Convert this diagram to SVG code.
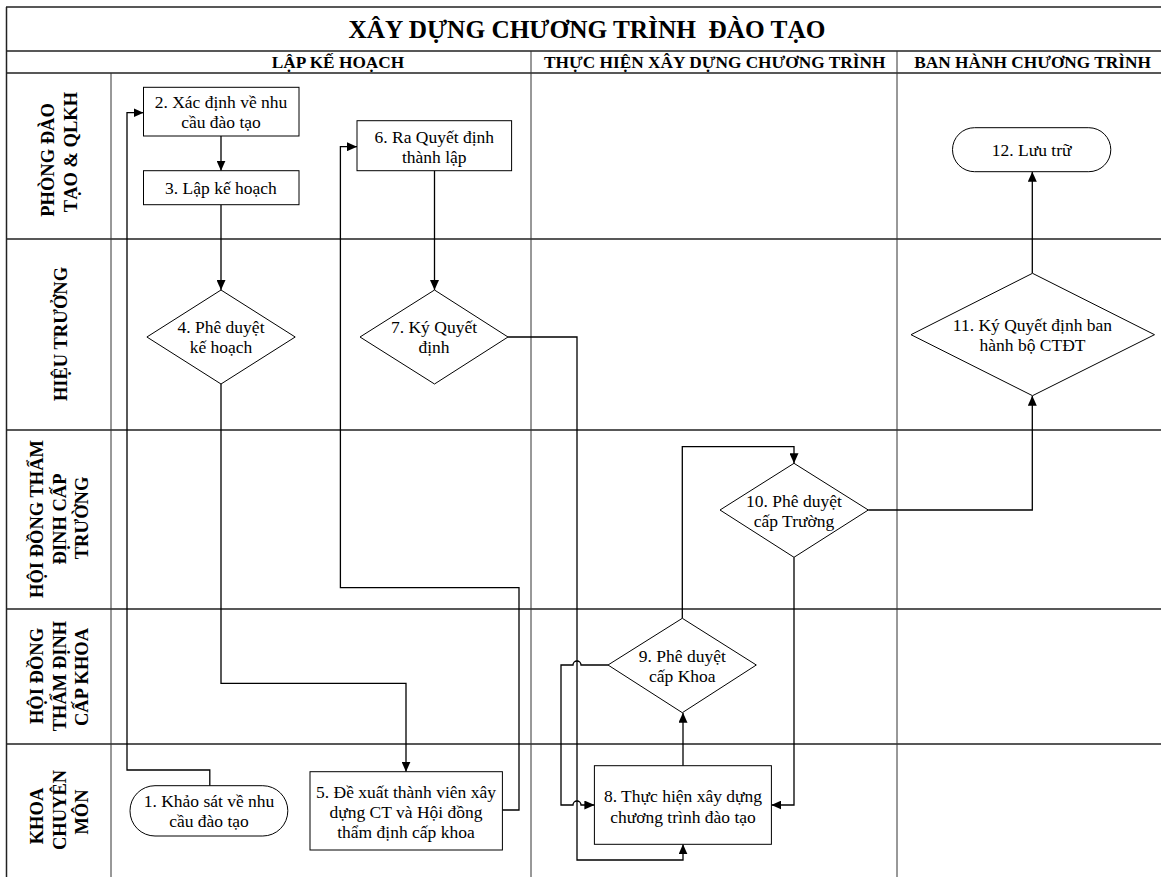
<svg xmlns="http://www.w3.org/2000/svg" width="1161" height="877" viewBox="0 0 1161 877">
<style>
.bg{fill:#fff}
.grid{stroke:#222;stroke-width:1.5;fill:none}
.vgrid{stroke:#333;stroke-width:1;fill:none}
.node{fill:#fff;stroke:#000;stroke-width:1}
.t{font-family:"Liberation Serif","Times New Roman",serif;font-size:17.5px;fill:#000;text-anchor:middle}
.title{font-family:"Liberation Serif","Times New Roman",serif;font-size:25.3px;font-weight:bold;fill:#000;text-anchor:middle}
.ph{font-family:"Liberation Serif","Times New Roman",serif;font-size:17.3px;font-weight:bold;fill:#000;text-anchor:middle}
.lane{font-family:"Liberation Serif","Times New Roman",serif;font-size:18.5px;font-weight:bold;fill:#000;text-anchor:middle}
.c{fill:none;stroke:#000;stroke-width:1.3}
</style>
<defs>
<marker id="arr" markerWidth="10" markerHeight="9" refX="10" refY="4.5" orient="auto" markerUnits="userSpaceOnUse">
<path d="M0,0 L10,4.5 L0,9 z" fill="#000"/>
</marker>
</defs>
<rect class="bg" x="0" y="0" width="1161" height="877"/>
<g id="frame">
<path class="grid" d="M6,7 H1161 M6.5,7 V877 M6,51 H1161 M6,73 H1161 M6,239 H1161 M6,430 H1161 M6,609 H1161 M6,744 H1161"/>
<path class="vgrid" d="M111,73 V877 M531,51 V877 M897,51 V877"/>
<text class="title" x="587" y="37.5">XÂY DỰNG CHƯƠNG TRÌNH&#160; ĐÀO TẠO</text>
<text class="ph" x="338" y="68">LẬP KẾ HOẠCH</text>
<text class="ph" x="714.7" y="68">THỰC HIỆN XÂY DỰNG CHƯƠNG TRÌNH</text>
<text class="ph" x="1032.6" y="68">BAN HÀNH CHƯƠNG TRÌNH</text>
</g>
<g id="lanes">
<text class="lane" transform="translate(54,160) rotate(-90)">PHÒNG ĐÀO</text>
<text class="lane" transform="translate(77,152) rotate(-90)">TẠO &amp; QLKH</text>
<text class="lane" transform="translate(67,334) rotate(-90)">HIỆU TRƯỞNG</text>
<text class="lane" transform="translate(43,519) rotate(-90)">HỘI ĐỒNG THẨM</text>
<text class="lane" transform="translate(66,519) rotate(-90)">ĐỊNH CẤP</text>
<text class="lane" transform="translate(88,518) rotate(-90)">TRƯỜNG</text>
<text class="lane" transform="translate(43,676) rotate(-90)">HỘI ĐỒNG</text>
<text class="lane" transform="translate(66,676) rotate(-90)">THẨM ĐỊNH</text>
<text class="lane" transform="translate(88,677) rotate(-90)">CẤP KHOA</text>
<text class="lane" transform="translate(43,816) rotate(-90)">KHOA</text>
<text class="lane" transform="translate(66,810) rotate(-90)">CHUYÊN</text>
<text class="lane" transform="translate(88,812) rotate(-90)">MÔN</text>
</g>
<g id="connectors">
<path class="c" marker-end="url(#arr)" d="M209.8,785.7 V770 H127 V112.7 H143.5"/>
<path class="c" marker-end="url(#arr)" d="M221,136 V170.7"/>
<path class="c" marker-end="url(#arr)" d="M221,204.7 V290"/>
<path class="c" marker-end="url(#arr)" d="M221,384 V683.3 H406 V771.7"/>
<path class="c" marker-end="url(#arr)" d="M502.4,810 H519 V587.7 H340.4 V146.7 H357"/>
<path class="c" marker-end="url(#arr)" d="M434.5,170.7 V290"/>
<path class="c" marker-end="url(#arr)" d="M508,337 H577 V860 H683 V844.3"/>
<path class="c" marker-end="url(#arr)" d="M683,765.7 V712.7"/>
<path class="c" marker-end="url(#arr)" d="M682.3,618.3 V446.7 H794 V463.3"/>
<path class="c" marker-end="url(#arr)" d="M608,665 H581 A4,4 0 0 0 573,665 H561 V805 H573 A4,4 0 0 1 581,805 H594.4"/>
<path class="c" marker-end="url(#arr)" d="M794,557.3 V805 H771.4"/>
<path class="c" marker-end="url(#arr)" d="M868.3,510 H1032.3 V395.7"/>
<path class="c" marker-end="url(#arr)" d="M1032.3,273.3 V171.7"/>
</g>
<g id="n1">
<rect class="node" x="130" y="785.7" width="157.8" height="50.3" rx="25" ry="25"/>
<text class="t" x="209" y="806.5">1. Khảo sát về nhu</text>
<text class="t" x="209" y="827">cầu đào tạo</text>
</g>
<g id="n2">
<rect class="node" x="143.5" y="87.3" width="155.5" height="48.7"/>
<text class="t" x="221" y="108">2. Xác định về nhu</text>
<text class="t" x="221" y="128">cầu đào tạo</text>
</g>
<g id="n3">
<rect class="node" x="143.5" y="170.7" width="155.5" height="34"/>
<text class="t" x="221" y="193.5">3. Lập kế hoạch</text>
</g>
<g id="n4">
<polygon class="node" points="221,290 295.2,337 221,384 146.9,337"/>
<text class="t" x="221" y="332.5">4. Phê duyệt</text>
<text class="t" x="221" y="352.5">kế hoạch</text>
</g>
<g id="n5">
<rect class="node" x="310" y="771.7" width="192.4" height="78.3"/>
<text class="t" x="406" y="798">5. Đề xuất thành viên xây</text>
<text class="t" x="406" y="818">dựng CT và Hội đồng</text>
<text class="t" x="406" y="838">thẩm định cấp khoa</text>
</g>
<g id="n6">
<rect class="node" x="357" y="120.7" width="154.6" height="50"/>
<text class="t" x="434.3" y="143">6. Ra Quyết định</text>
<text class="t" x="434.3" y="163">thành lập</text>
</g>
<g id="n7">
<polygon class="node" points="434.5,290 508,337 434.5,384 360,337"/>
<text class="t" x="434" y="332.5">7. Ký Quyết</text>
<text class="t" x="434" y="352.5">định</text>
</g>
<g id="n8">
<rect class="node" x="594.4" y="765.7" width="177" height="78.6"/>
<text class="t" x="683" y="801.5">8. Thực hiện xây dựng</text>
<text class="t" x="683" y="822.5">chương trình đào tạo</text>
</g>
<g id="n9">
<polygon class="node" points="682.3,618.3 756.3,665 682.3,712.7 608,665"/>
<text class="t" x="682.3" y="661.5">9. Phê duyệt</text>
<text class="t" x="682.3" y="681.5">cấp Khoa</text>
</g>
<g id="n10">
<polygon class="node" points="794,463.3 868.3,510 794,557.3 720,510"/>
<text class="t" x="794" y="506.5">10. Phê duyệt</text>
<text class="t" x="794" y="526.5">cấp Trường</text>
</g>
<g id="n11">
<polygon class="node" points="1032.5,273.3 1154.5,334.7 1032.5,395.7 911,334.7"/>
<text class="t" x="1032.5" y="331">11. Ký Quyết định ban</text>
<text class="t" x="1032.5" y="351">hành bộ CTĐT</text>
</g>
<g id="n12">
<rect class="node" x="952.5" y="127.7" width="158.3" height="44" rx="22" ry="22"/>
<text class="t" x="1031.6" y="156">12. Lưu trữ</text>
</g>
</svg>
